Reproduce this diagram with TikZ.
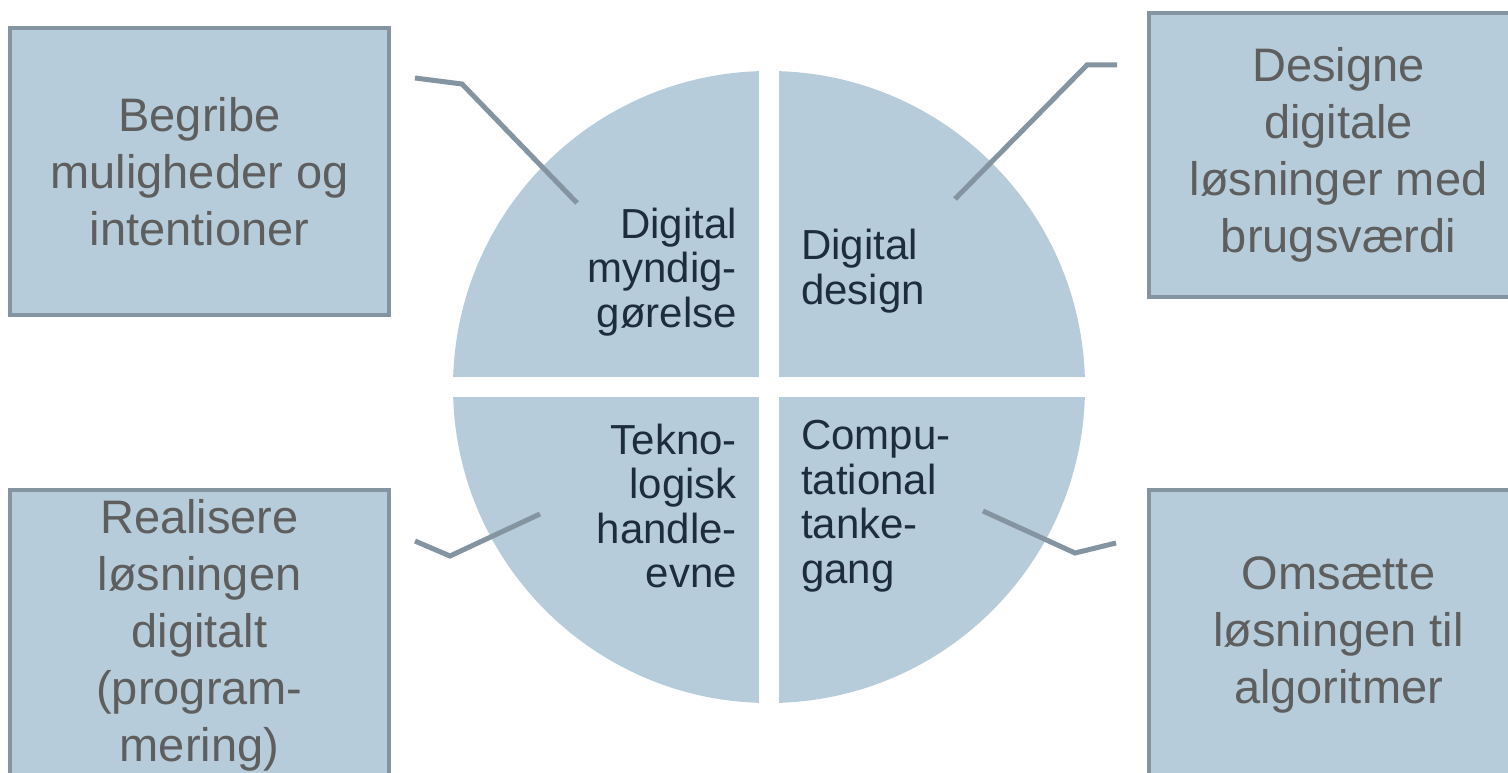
\documentclass[tikz,border=0pt]{standalone}
\usepackage{fontspec}
\setmainfont{Liberation Sans}
\usetikzlibrary{arrows}
\definecolor{fillblue}{HTML}{B6CCDA}
\definecolor{edgegray}{HTML}{8594A1}
\definecolor{boxtext}{HTML}{5E5E5E}
\definecolor{quadtext}{HTML}{1E2D3C}

\begin{document}
\begin{tikzpicture}[x=1pt,y=-1pt]
	\tikzstyle{outbox}=[draw=edgegray, fill=fillblue, line width=4pt, minimum width=379pt, align=center, text=boxtext, font=\fontsize{47}{57}\selectfont, inner sep=0pt]
	\tikzstyle{quad}=[text=quadtext, font=\fontsize{42}{44.5}\selectfont, inner sep=0pt]
	\tikzstyle{link}=[draw=edgegray, line width=5pt]
	\useasboundingbox (0,0) rectangle (1508,773);
	% circle, cut in four
	\fill[fillblue] (769,387) circle (316pt);
	\draw[white, line width=20pt] (769,60) -- (769,714) (442,387) -- (1096,387);
	\node[quad, anchor=east, align=right] (myndig) at (737,272) {Digital\\myndig-\\gørelse};
	\node[quad, anchor=west, align=left] (ddesign) at (801,271) {Digital\\design};
	\node[quad, anchor=east, align=right] (tekno) at (737,506) {Tekno-\\logisk\\handle-\\evne};
	\node[quad, anchor=west, align=left] (compu) at (801,506) {Compu-\\tational\\tanke-\\gang};
	% outer boxes
	\node[outbox, minimum height=287pt] (mulig) at (199.5,171.5) {Begribe\\muligheder og\\intentioner};
	\node[outbox, minimum height=284pt] (designe) at (1338.5,155) {Designe\\digitale\\løsninger med\\brugsværdi};
	\node[outbox, minimum height=290pt] (real) at (199.5,635) {Realisere\\løsningen\\digitalt\\(program-\\mering)};
	\node[outbox, minimum height=290pt] (algo) at (1338.5,635) {Omsætte\\løsningen til\\algoritmer};
	% connectors
	\coordinate (m1) at (415,78);
	\coordinate (m2) at (462,84);
	\coordinate (m3) at (577,203);
	\coordinate (d1) at (1117,65);
	\coordinate (d2) at (1087,65);
	\coordinate (d3) at (955,199);
	\coordinate (r1) at (415,541);
	\coordinate (r2) at (450,556);
	\coordinate (r3) at (540,514);
	\coordinate (a1) at (983,511);
	\coordinate (a2) at (1075,553);
	\coordinate (a3) at (1116,543);
	\draw[link] (m1) -- (m2) -- (m3);
	\draw[link] (d1) -- (d2) -- (d3);
	\draw[link] (r1) -- (r2) -- (r3);
	\draw[link] (a1) -- (a2) -- (a3);
\end{tikzpicture}
\end{document}
